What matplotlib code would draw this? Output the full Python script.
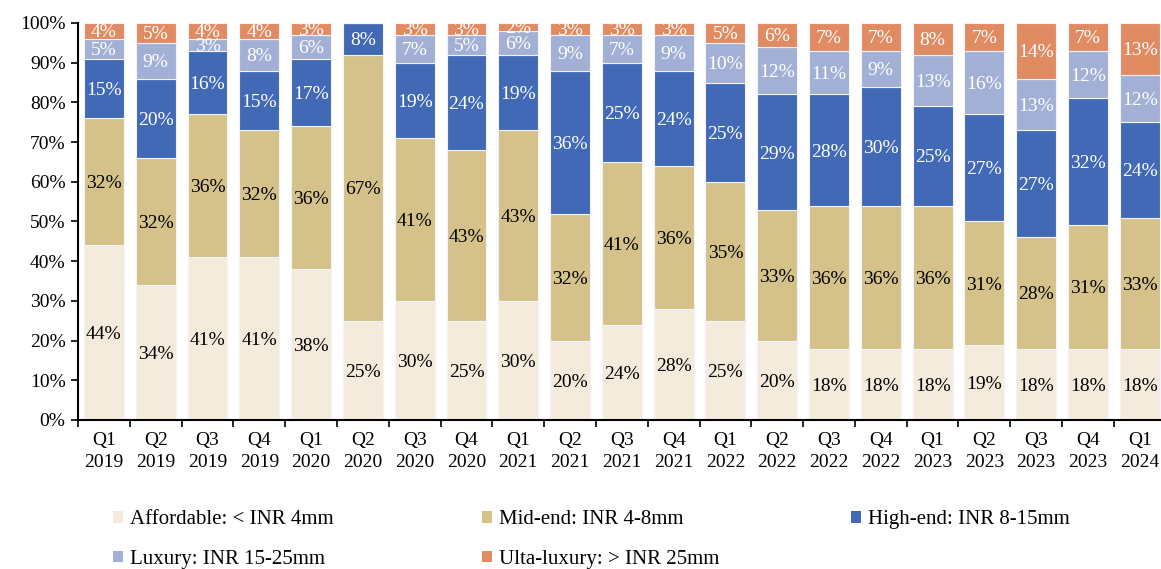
import matplotlib
matplotlib.use("Agg")
import matplotlib.pyplot as plt
import numpy as np
from matplotlib.patches import Patch

quarters = ["Q1\n2019", "Q2\n2019", "Q3\n2019", "Q4\n2019", "Q1\n2020", "Q2\n2020", "Q3\n2020",
            "Q4\n2020", "Q1\n2021", "Q2\n2021", "Q3\n2021", "Q4\n2021", "Q1\n2022", "Q2\n2022",
            "Q3\n2022", "Q4\n2022", "Q1\n2023", "Q2\n2023", "Q3\n2023", "Q4\n2023", "Q1\n2024"]
affordable = [44, 34, 41, 41, 38, 25, 30, 25, 30, 20, 24, 28, 25, 20, 18, 18, 18, 19, 18, 18, 18]
mid_end    = [32, 32, 36, 32, 36, 67, 41, 43, 43, 32, 41, 36, 35, 33, 36, 36, 36, 31, 28, 31, 33]
high_end   = [15, 20, 16, 15, 17, 8, 19, 24, 19, 36, 25, 24, 25, 29, 28, 30, 25, 27, 27, 32, 24]
luxury     = [5, 9, 3, 8, 6, 0, 7, 5, 6, 9, 7, 9, 10, 12, 11, 9, 13, 16, 13, 12, 12]
ultra      = [4, 5, 4, 4, 3, 0, 3, 3, 2, 3, 3, 3, 5, 6, 7, 7, 8, 7, 14, 7, 13]

series_names = ["Affordable: < INR 4mm", "Mid-end: INR 4-8mm", "High-end: INR 8-15mm",
                "Luxury: INR 15-25mm", "Ulta-luxury: > INR 25mm"]
colors = ["#F5EBDD", "#D4C28A", "#4169B5", "#A3B0D6", "#E08B62"]
text_colors = ["black", "black", "white", "white", "white"]

plt.rcParams['font.family'] = ['Liberation Serif', 'DejaVu Serif']
fig = plt.figure(figsize=(11.61, 5.69), dpi=100)
ax = fig.add_axes([0.0672, 0.2619, 1.0 - 0.0672, 0.6977])

x = np.arange(len(quarters))
data = [affordable, mid_end, high_end, luxury, ultra]
bottom = np.zeros(len(quarters))
for vals, col, tc in zip(data, colors, text_colors):
    vals = np.array(vals, dtype=float)
    ax.bar(x, vals, 0.77, bottom=bottom, color=col, edgecolor="#F4F4F8", linewidth=0.8, zorder=2)
    for xi, v, b in zip(x, vals, bottom):
        if v > 0:
            ax.text(xi, b + v / 2, f"{int(v)}%", ha="center", va="center_baseline",
                    color=tc, fontsize=14, zorder=3)
    bottom += vals

ax.set_xlim(-0.5, 20.41)
ax.set_ylim(0, 100)
ax.set_yticks(np.arange(0, 101, 10))
ax.set_yticklabels([f"{v}%" for v in range(0, 101, 10)], fontsize=14)
ax.set_xticks(x)
ax.set_xticklabels(quarters, fontsize=14, linespacing=1.33)
ax.tick_params(axis="x", which="major", length=0, pad=9)
ax.set_xticks(np.arange(-0.5, 20.5, 1.0), minor=True)
ax.tick_params(axis="x", which="minor", length=5, width=1.2, direction="out")
ax.tick_params(axis="y", length=5, width=1.2, direction="out", pad=4)
for s in ["top", "right"]:
    ax.spines[s].set_visible(False)
ax.spines["left"].set_linewidth(1.5)
ax.spines["bottom"].set_linewidth(1.5)

handles = [Patch(facecolor=c, edgecolor="none") for c in colors]
columns = [([0, 3], 113), ([1, 4], 482), ([2], 851)]
W, H = 1161.0, 569.0
for idxs, xpx in columns:
    fig.legend([handles[i] for i in idxs], [series_names[i] for i in idxs],
               loc="upper left", bbox_to_anchor=(xpx / W, (H - 510) / H), ncol=1, frameon=False,
               fontsize=15, handlelength=0.5, handleheight=0.5, handletextpad=0.3,
               labelspacing=1.0, borderaxespad=0, borderpad=0)

fig.savefig("out.png", dpi=100)
